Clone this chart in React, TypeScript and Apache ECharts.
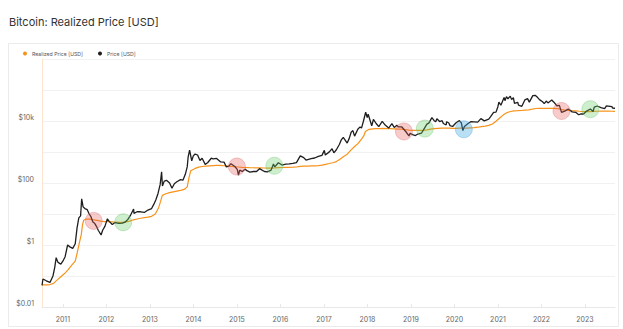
import React, { useEffect, useRef } from 'react';
import * as echarts from 'echarts';

const realizedDates = [
  '2010-07-10','2010-08-15','2010-09-15','2010-10-15','2010-11-15','2010-12-15',
  '2011-01-15','2011-02-15','2011-03-15','2011-04-15','2011-05-01','2011-05-20','2011-06-05','2011-06-15','2011-06-25','2011-07-15','2011-08-15','2011-09-15','2011-10-15','2011-11-15','2011-12-15',
  '2012-01-15','2012-02-15','2012-03-15','2012-04-15','2012-05-15','2012-06-15','2012-07-15','2012-08-15','2012-09-15','2012-10-15','2012-11-15','2012-12-15',
  '2013-01-15','2013-02-15','2013-03-15','2013-04-01','2013-04-15','2013-05-15','2013-06-15','2013-07-15','2013-08-15','2013-09-15','2013-10-15','2013-11-10','2013-11-25','2013-12-10',
  '2014-01-15','2014-02-15','2014-03-15','2014-04-15','2014-05-15','2014-06-15','2014-07-15','2014-08-15','2014-09-15','2014-10-15','2014-11-15','2014-12-15',
  '2015-01-15','2015-02-15','2015-03-15','2015-04-15','2015-05-15','2015-06-15','2015-07-15','2015-08-15','2015-09-15','2015-10-15','2015-11-15','2015-12-15',
  '2016-01-15','2016-02-15','2016-03-15','2016-04-15','2016-05-15','2016-06-15','2016-07-15','2016-08-15','2016-09-15','2016-10-15','2016-11-15','2016-12-15',
  '2017-01-15','2017-02-15','2017-03-15','2017-04-15','2017-05-15','2017-06-15','2017-07-15','2017-08-15','2017-09-15','2017-10-15','2017-11-15','2017-12-01','2017-12-15',
  '2018-01-15','2018-02-15','2018-03-15','2018-04-15','2018-05-15','2018-06-15','2018-07-15','2018-08-15','2018-09-15','2018-10-15','2018-11-15','2018-12-15',
  '2019-01-15','2019-02-15','2019-03-15','2019-04-15','2019-05-15','2019-06-15','2019-07-15','2019-08-15','2019-09-15','2019-10-15','2019-11-15','2019-12-15',
  '2020-01-15','2020-02-15','2020-03-15','2020-04-15','2020-05-15','2020-06-15','2020-07-15','2020-08-15','2020-09-15','2020-10-15','2020-11-15','2020-12-15',
  '2021-01-15','2021-02-15','2021-03-15','2021-04-15','2021-05-15','2021-06-15','2021-07-15','2021-08-15','2021-09-15','2021-10-15','2021-11-15','2021-12-15',
  '2022-01-15','2022-02-15','2022-03-15','2022-04-15','2022-05-15','2022-06-15','2022-07-15','2022-08-15','2022-09-15','2022-10-15','2022-11-15','2022-12-15',
  '2023-01-15','2023-02-15','2023-03-15','2023-04-15','2023-05-15','2023-06-15','2023-07-15','2023-08-15','2023-09-10'
];
const realizedValues = [
  0.052, 0.052, 0.053, 0.058, 0.075, 0.095,
  0.12, 0.16, 0.22, 0.3, 0.55, 1.2, 2.2, 4.5, 6.3, 6.9, 6.8, 6.5, 6.2, 5.9, 5.7,
  5.7, 5.6, 5.5, 5.4, 5.4, 5.6, 5.9, 6.5, 6.9, 7.3, 7.6, 7.9,
  8.4, 10, 16, 26, 40, 45, 49, 52, 55, 58, 62, 75, 150, 250,
  295, 325, 340, 350, 358, 366, 370, 368, 360, 350, 342, 335,
  328, 320, 316, 312, 310, 308, 307, 305, 304, 304, 308, 314,
  316, 318, 320, 323, 328, 342, 350, 352, 355, 358, 364, 375,
  400, 425, 450, 490, 580, 720, 850, 1150, 1500, 1900, 2700, 3300, 4600,
  5400, 5600, 5700, 5700, 5750, 5700, 5650, 5600, 5500, 5450, 5300, 5100,
  5000, 4950, 4950, 5000, 5200, 5500, 5700, 5800, 5850, 5850, 5850, 5800,
  5800, 5900, 5850, 5850, 6000, 6100, 6300, 6600, 6800, 7200, 8000, 9800,
  12500, 15800, 18500, 20300, 21300, 21500, 21800, 22400, 23000, 24000, 25300, 25700,
  25600, 25500, 25600, 25700, 25000, 23600, 22500, 22000, 21500, 21100, 20600, 20200,
  20100, 20200, 20400, 20600, 20700, 20700, 20700, 20600, 20500
];

const priceDates = [
  '2010-07-10','2010-07-18','2010-08-15','2010-09-15','2010-10-10','2010-10-25','2010-11-06','2010-11-20','2010-12-15',
  '2011-01-01','2011-01-20','2011-02-10','2011-03-01','2011-03-25','2011-04-15','2011-04-30','2011-05-15','2011-05-30','2011-06-08','2011-06-20','2011-07-05','2011-07-25','2011-08-10','2011-08-25','2011-09-10','2011-09-25','2011-10-10','2011-10-25','2011-11-18','2011-12-01','2011-12-20',
  '2012-01-10','2012-01-25','2012-02-20','2012-03-15','2012-04-15','2012-05-15','2012-06-10','2012-06-30','2012-07-20','2012-08-17','2012-08-20','2012-09-15','2012-10-15','2012-11-15','2012-12-15',
  '2013-01-15','2013-02-01','2013-02-20','2013-03-10','2013-03-28','2013-04-09','2013-04-16','2013-05-01','2013-05-20','2013-06-15','2013-07-05','2013-07-25','2013-08-15','2013-09-15','2013-10-05','2013-10-25','2013-11-10','2013-11-18','2013-11-30','2013-12-18','2013-12-31',
  '2014-01-15','2014-02-05','2014-02-25','2014-03-15','2014-04-10','2014-04-30','2014-05-31','2014-06-15','2014-07-15','2014-08-18','2014-09-15','2014-10-05','2014-10-25','2014-11-12','2014-12-15',
  '2015-01-05','2015-01-14','2015-01-25','2015-02-15','2015-03-10','2015-03-30','2015-04-20','2015-05-20','2015-06-15','2015-07-10','2015-08-20','2015-09-15','2015-10-15','2015-11-04','2015-11-15','2015-12-15',
  '2016-01-15','2016-02-15','2016-03-15','2016-04-15','2016-05-15','2016-06-16','2016-07-15','2016-08-03','2016-09-15','2016-10-15','2016-11-15','2016-12-15',
  '2017-01-04','2017-01-12','2017-02-15','2017-03-10','2017-03-25','2017-04-15','2017-05-10','2017-05-25','2017-06-12','2017-07-15','2017-08-01','2017-08-17','2017-09-01','2017-09-15','2017-10-12','2017-10-31','2017-11-12','2017-11-28','2017-12-17','2017-12-30',
  '2018-01-07','2018-02-06','2018-02-20','2018-03-15','2018-04-06','2018-05-05','2018-05-30','2018-06-28','2018-07-25','2018-08-14','2018-09-05','2018-09-15','2018-10-15','2018-11-20','2018-12-15','2018-12-25',
  '2019-01-15','2019-02-08','2019-02-28','2019-03-31','2019-04-15','2019-05-15','2019-05-31','2019-06-26','2019-07-15','2019-07-28','2019-08-07','2019-08-30','2019-09-20','2019-09-30','2019-10-24','2019-10-27','2019-11-15','2019-11-25','2019-12-17',
  '2020-01-15','2020-02-12','2020-02-28','2020-03-12','2020-03-25','2020-04-30','2020-05-20','2020-06-15','2020-07-15','2020-08-10','2020-09-08','2020-10-15','2020-10-31','2020-11-25','2020-12-15','2020-12-31',
  '2021-01-08','2021-01-25','2021-02-21','2021-02-28','2021-03-13','2021-03-25','2021-04-14','2021-04-25','2021-05-10','2021-05-19','2021-06-15','2021-06-22','2021-07-20','2021-08-14','2021-09-06','2021-09-21','2021-10-20','2021-11-09','2021-11-30','2021-12-15',
  '2022-01-10','2022-01-24','2022-02-10','2022-02-24','2022-03-28','2022-04-15','2022-05-10','2022-05-31','2022-06-18','2022-07-15','2022-08-14','2022-09-15','2022-10-15','2022-11-09','2022-11-30','2022-12-20',
  '2023-01-15','2023-02-15','2023-03-10','2023-03-20','2023-04-14','2023-05-15','2023-06-15','2023-06-30','2023-07-15','2023-08-15','2023-08-20','2023-09-10'
];
const priceValues = [
  0.05, 0.08, 0.07, 0.062, 0.1, 0.19, 0.39, 0.28, 0.24,
  0.3, 0.42, 1.0, 0.87, 0.78, 1.1, 3.5, 7.5, 8.7, 31, 17, 15, 13.8, 10, 8.2, 5.5, 5.0, 4.0, 3.0, 2.1, 3.0, 4.0,
  7.0, 5.8, 4.6, 5.3, 5.0, 5.1, 5.6, 6.7, 8.8, 14.5, 10.5, 11.8, 11.8, 11.2, 13.4,
  15, 20, 29, 46, 90, 230, 80, 115, 122, 100, 68, 95, 110, 128, 123, 190, 330, 700, 1150, 520, 750,
  860, 800, 530, 630, 400, 450, 630, 600, 620, 480, 470, 330, 350, 420, 340,
  270, 178, 260, 235, 280, 245, 225, 235, 235, 290, 235, 230, 260, 410, 330, 450,
  380, 405, 415, 430, 455, 750, 660, 550, 610, 640, 720, 780,
  1130, 800, 1010, 1270, 940, 1180, 1750, 2400, 2950, 1950, 2750, 4350, 4900, 3250, 5400, 6450, 5900, 9800, 19200, 13000,
  16500, 7000, 11200, 8300, 6600, 9700, 7400, 5900, 8200, 6200, 7300, 6500, 6500, 4500, 3300, 4000,
  3650, 3400, 3800, 4100, 5100, 7900, 8500, 12900, 10200, 9500, 11800, 9600, 10200, 8300, 7450, 9500, 8600, 7100, 6650,
  8800, 10350, 8700, 4900, 6700, 8650, 9500, 9400, 9200, 11900, 10100, 11500, 13800, 19000, 19300, 29000,
  40600, 32300, 57500, 45200, 61200, 52000, 63500, 49000, 57000, 37000, 40100, 32500, 29800, 47800, 52600, 40600, 65900, 67500, 57000, 48900,
  41800, 36200, 44000, 38300, 47400, 40500, 31000, 31800, 19000, 20800, 24300, 19700, 19100, 15900, 17100, 16800,
  20900, 24300, 20200, 28100, 30500, 27200, 25100, 30500, 30300, 29200, 26100, 25800
];

const sellDates = ['2011-09-17', '2015-01-01', '2018-11-03', '2022-06-18'];
const sellValues = [6, 340, 4600, 21000];
const buyDates = ['2012-05-22', '2015-11-12', '2019-04-28', '2023-02-15'];
const buyValues = [5.4, 360, 5700, 24000];
const crashDates = ['2020-03-20'];
const crashValues = [5400];

const yLabelValues = [0.01, 1, 100, 10000];
const yLabelTexts = ['$0.01', '$1', '$100', '$10k'];

const FONT = 'Inter, Roboto, sans-serif';

function pairs(d: string[], v: number[]) {
  return d.map((x, i) => [x, v[i]]);
}

export default function App() {
  const ref = useRef<HTMLDivElement>(null);
  useEffect(() => {
    if (!ref.current) return;
    const chart = echarts.init(ref.current, null, { renderer: 'svg' });
    chart.setOption({
      animation: false,
      backgroundColor: '#ffffff',
      textStyle: { fontFamily: FONT },
      title: {
        text: 'Bitcoin: Realized Price [USD]',
        left: 9,
        top: 16,
        padding: 0,
        textStyle: { fontSize: 11, fontWeight: 'normal', color: '#333333', fontFamily: FONT },
      },
      graphic: [
        {
          type: 'rect',
          silent: true,
          z: -10,
          shape: { x: 8.5, y: 43.5, width: 610, height: 283 },
          style: { fill: '#ffffff', stroke: '#ebebeb', lineWidth: 1 },
        },
      ],
      legend: {
        data: ['Realized Price [USD]', 'Price [USD]'],
        left: 23,
        top: 51,
        padding: 0,
        icon: 'circle',
        itemWidth: 4,
        itemHeight: 4,
        itemGap: 15,
        textStyle: { fontSize: 5.2, color: '#555555', fontFamily: FONT },
      },
      grid: { left: 42, right: 8, top: 59, bottom: 22 },
      xAxis: {
        type: 'time',
        min: '2010-07-10',
        max: '2023-09-10',
        minInterval: 365 * 24 * 3600 * 1000,
        maxInterval: 366 * 24 * 3600 * 1000,
        axisLine: { show: true, lineStyle: { color: '#e8e8e8' } },
        axisTick: { show: true, inside: true, length: 3, lineStyle: { color: '#e8e8e8' } },
        splitLine: { show: false },
        axisLabel: {
          fontSize: 7,
          color: '#666666',
          margin: 9,
          showMinLabel: false,
          showMaxLabel: false,
          formatter: (v: number) => String(new Date(v).getFullYear()),
        },
      },
      yAxis: {
        type: 'log',
        logBase: 10,
        min: 0.01,
        max: 1000000,
        splitNumber: 8,
        axisLine: { show: true, lineStyle: { color: '#fde4cc' } },
        axisTick: { show: false },
        splitLine: { show: true, lineStyle: { color: '#f1f1f1' } },
        axisLabel: {
          fontSize: 7,
          color: '#666666',
          margin: 8,
          verticalAlign: 'bottom',
          formatter: (v: number) => {
            const e = Math.round(Math.log10(v));
            for (let i = 0; i < yLabelValues.length; i++) {
              if (Math.round(Math.log10(yLabelValues[i])) === e) return yLabelTexts[i];
            }
            return '';
          },
        },
      },
      series: [
        {
          name: 'Realized Price [USD]',
          type: 'line',
          data: pairs(realizedDates, realizedValues),
          showSymbol: false,
          symbol: 'none',
          itemStyle: { color: '#f7931a' },
          lineStyle: { color: '#f7931a', width: 1.2 },
          z: 2,
        },
        {
          name: 'Price [USD]',
          type: 'line',
          data: pairs(priceDates, priceValues),
          showSymbol: false,
          symbol: 'none',
          itemStyle: { color: '#1e1e1e' },
          lineStyle: { color: '#1e1e1e', width: 1.3 },
          z: 3,
        },
        {
          name: 'sell',
          type: 'scatter',
          data: pairs(sellDates, sellValues),
          symbolSize: 17,
          itemStyle: { color: 'rgba(232,92,92,0.4)', borderColor: 'rgba(220,120,120,0.5)', borderWidth: 1 },
          z: 5,
        },
        {
          name: 'buy',
          type: 'scatter',
          data: pairs(buyDates, buyValues),
          symbolSize: 17,
          itemStyle: { color: 'rgba(100,205,100,0.4)', borderColor: 'rgba(120,200,120,0.5)', borderWidth: 1 },
          z: 5,
        },
        {
          name: 'crash',
          type: 'scatter',
          data: pairs(crashDates, crashValues),
          symbolSize: 17,
          itemStyle: { color: 'rgba(60,165,225,0.45)', borderColor: 'rgba(90,170,220,0.5)', borderWidth: 1 },
          z: 5,
        },
      ],
    });
    return () => chart.dispose();
  }, []);
  return (
    <div
      ref={ref}
      style={{ position: 'fixed', left: 0, top: 0, width: 623, height: 329, background: '#fff' }}
    />
  );
}
